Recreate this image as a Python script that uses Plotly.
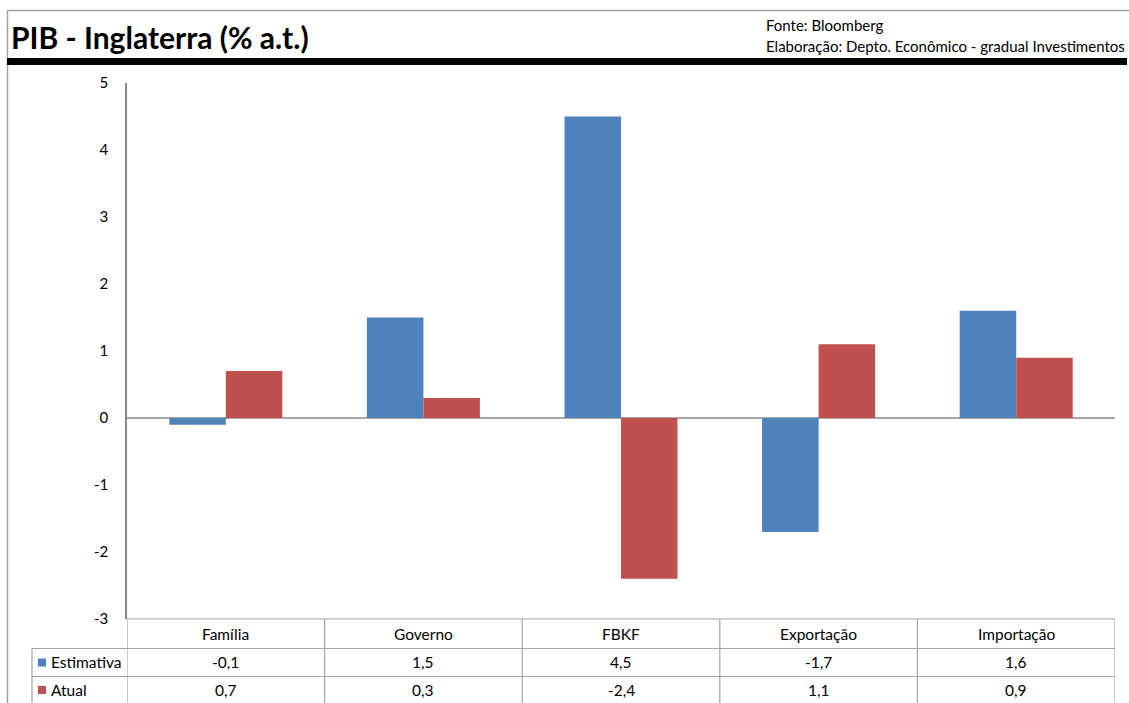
import plotly.graph_objects as go

# Series data (% a.t.)
categorias = ["Família", "Governo", "FBKF", "Exportação", "Importação"]
estimativa = [-0.1, 1.5, 4.5, -1.7, 1.6]
atual = [0.7, 0.3, -2.4, 1.1, 0.9]
series_nomes = ["Estimativa", "Atual"]
y_ticks = [5, 4, 3, 2, 1, 0, -1, -2, -3]

AZUL = "#4F81BD"
VERMELHO = "#C0504D"
CINZA = "#A6A6A6"
FONTE = "Lato"

W, H = 1129, 703
L, R, T, B = 127, 14, 83, 84
PW, PH = W - L - R, H - T - B


def px(p):
    """Horizontal pixel -> paper coordinate."""
    return (p - L) / PW


def py(p):
    """Vertical pixel -> paper coordinate."""
    return (H - B - p) / PH


fig = go.Figure()
fig.add_trace(go.Bar(x=categorias, y=estimativa, name=series_nomes[0],
                     marker=dict(color=AZUL, line=dict(width=0))))
fig.add_trace(go.Bar(x=categorias, y=atual, name=series_nomes[1],
                     marker=dict(color=VERMELHO, line=dict(width=0))))

shapes = []
# frame around the chart
shapes.append(dict(type="line", xref="paper", yref="paper", x0=px(7.5), x1=px(W),
                   y0=py(10.5), y1=py(10.5), line=dict(color="#A0A0A0", width=1.5)))
shapes.append(dict(type="line", xref="paper", yref="paper", x0=px(7.5), x1=px(7.5),
                   y0=py(10.5), y1=py(H), line=dict(color="#A0A0A0", width=1.5)))
# thick rule under the title
shapes.append(dict(type="rect", xref="paper", yref="paper", x0=px(7), x1=px(1127),
                   y0=py(65), y1=py(58), fillcolor="black", line=dict(width=0)))
# zero line
shapes.append(dict(type="line", xref="paper", yref="y", x0=0, x1=1, y0=0, y1=0,
                   line=dict(color="#A6A6A6", width=2), layer="below"))

# data table below the plot
row_top = [619, 648.5, 676.5]
for yy in row_top:
    x0 = 0 if yy == 619 else px(32)
    shapes.append(dict(type="line", xref="paper", yref="paper", x0=x0, x1=1,
                       y0=py(yy), y1=py(yy), line=dict(color=CINZA, width=1.2)))
for i in range(len(categorias) + 1):
    shapes.append(dict(type="line", xref="x", yref="paper", x0=i - 0.5, x1=i - 0.5,
                       y0=py(619), y1=py(H), line=dict(color=CINZA, width=1.2)))
shapes.append(dict(type="line", xref="paper", yref="paper", x0=px(32), x1=px(32),
                   y0=py(648.5), y1=py(H), line=dict(color=CINZA, width=1.2)))

annotations = []
row_centers = [634, 662.5, 690]
for i, cat in enumerate(categorias):
    annotations.append(dict(x=cat, xref="x", y=py(row_centers[0]), yref="paper",
                            text=cat, showarrow=False, yanchor="middle",
                            font=dict(family=FONTE, size=15.5, color="black")))
for r, (serie, cor) in enumerate(zip([estimativa, atual], [AZUL, VERMELHO])):
    yc = row_centers[r + 1]
    for cat, v in zip(categorias, serie):
        annotations.append(dict(x=cat, xref="x", y=py(yc), yref="paper",
                                text=f"{v:.1f}".replace(".", ","), showarrow=False,
                                yanchor="middle",
                                font=dict(family=FONTE, size=15.5, color="black")))
    shapes.append(dict(type="rect", xref="paper", yref="paper", x0=px(38), x1=px(46),
                       y0=py(yc + 4), y1=py(yc - 4), fillcolor=cor, line=dict(width=0)))
    annotations.append(dict(x=px(49), xref="paper", y=py(yc), yref="paper",
                            text=series_nomes[r], showarrow=False, xanchor="left",
                            yanchor="middle",
                            font=dict(family=FONTE, size=15.5, color="black")))

# title and source notes
annotations.append(dict(x=px(9), xref="paper", y=py(37), yref="paper",
                        text="<b>PIB - Inglaterra (% a.t.)</b>", showarrow=False,
                        xanchor="left", yanchor="middle",
                        font=dict(family=FONTE, size=30, color="black")))
annotations.append(dict(x=px(764), xref="paper", y=py(25), yref="paper",
                        text="Fonte: Bloomberg", showarrow=False,
                        xanchor="left", yanchor="middle",
                        font=dict(family=FONTE, size=15, color="black")))
annotations.append(dict(x=px(764), xref="paper", y=py(46), yref="paper",
                        text="Elaboração: Depto. Econômico - gradual Investimentos",
                        showarrow=False, xanchor="left", yanchor="middle",
                        font=dict(family=FONTE, size=15, color="black")))

fig.update_layout(
    width=W, height=H,
    margin=dict(l=L, r=R, t=T, b=B),
    paper_bgcolor="white", plot_bgcolor="white",
    barmode="group", bargap=0.428, bargroupgap=0,
    showlegend=False,
    font=dict(family=FONTE, color="black"),
    xaxis=dict(showticklabels=False, showgrid=False, zeroline=False,
               showline=False, ticks="", range=[-0.5, 4.5]),
    yaxis=dict(range=[-3, 5], tickvals=y_ticks, ticktext=[str(t) for t in y_ticks],
               showgrid=False, zeroline=False, showline=True,
               linecolor="#868686", linewidth=1.5, ticks="",
               ticklabelstandoff=14,
               tickfont=dict(family=FONTE, size=15, color="black")),
    shapes=shapes,
    annotations=annotations,
)

fig.write_html("out.html")
